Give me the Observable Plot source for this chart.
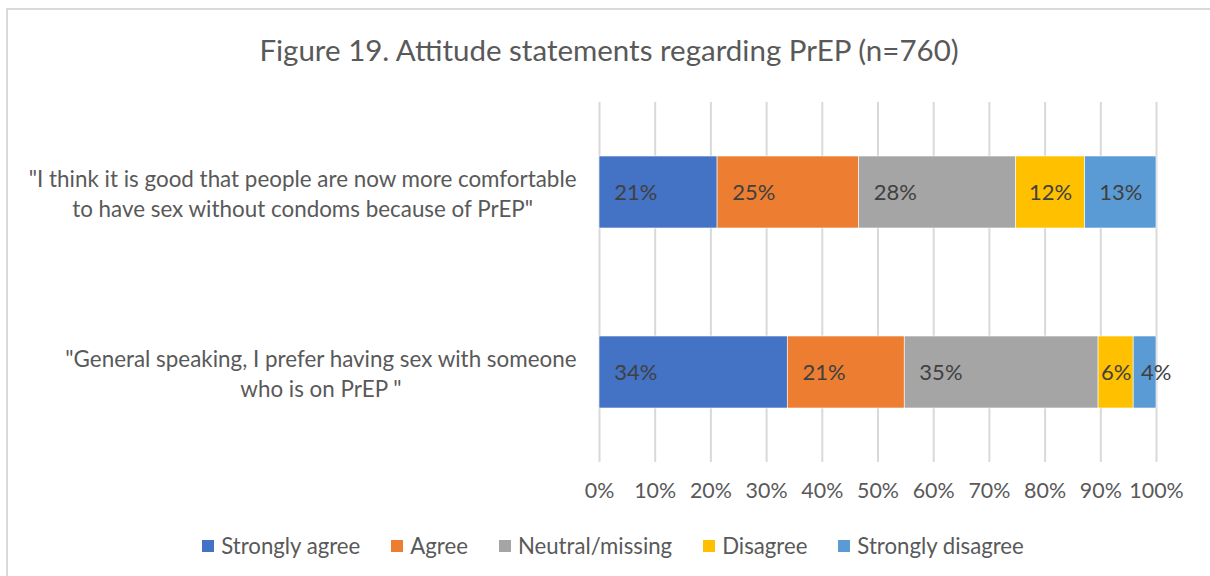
<!DOCTYPE html>
<html>
<head>
<meta charset="utf-8">
<script src="https://cdn.jsdelivr.net/npm/d3@7"></script>
<script src="https://cdn.jsdelivr.net/npm/@observablehq/plot@0.6"></script>
<style>
  body { margin: 0; background: #fff; font-family: Lato, "Open Sans", sans-serif; }
  #wrap { position: relative; width: 1210px; height: 576px; overflow: hidden; background: #fff; }
  #frame { position: absolute; left: 6px; top: 8px; width: 1400px; height: 800px;
           border-top: 2px solid #d9d9d9; border-left: 2px solid #d9d9d9; }
  #title { position: absolute; top: 32px; left: 0; width: 1218px; text-align: center;
           font-size: 29.5px; color: #595959; line-height: 36px; }
  #chart { position: absolute; left: 0; top: 100px; }
  #legend { position: absolute; top: 532px; left: 0; width: 1226px; display: flex;
            justify-content: center; font-size: 22.2px; color: #595959; line-height: 28px; }
  .item { display: flex; align-items: center; margin: 0 15.5px; }
  .sw { width: 12px; height: 12px; margin-right: 7px; }
</style>
</head>
<body>
<div id="wrap">
  <div id="frame"></div>
  <div id="title">Figure 19. Attitude statements regarding PrEP (n=760)</div>
  <div id="chart"></div>
  <div id="legend"></div>
</div>
<script>
// Survey statements (one bar each)
const statements = [
  '"I think it is good that people are now more comfortable\nto have sex without condoms because of PrEP"',
  '"General speaking, I prefer having sex with someone\nwho is on PrEP "'
];
// Response categories and their colours
const responses = ["Strongly agree", "Agree", "Neutral/missing", "Disagree", "Strongly disagree"];
const colors = ["#4472C4", "#ED7D31", "#A5A5A5", "#FFC000", "#5B9BD5"];
// Percentages per response, same order as responses
const comfortableValues = [21.2, 25.4, 28.2, 12.4, 12.8];
const preferValues = [33.8, 21.0, 34.8, 6.3, 4.1];
// Axis ticks
const xTicks = [0, 10, 20, 30, 40, 50, 60, 70, 80, 90, 100];

// Build stacked rows with label anchor positions
const labelHalf = 3.15, labelGap = 0.9, labelBox = 13;
const rows = [];
[comfortableValues, preferValues].forEach((vals, i) => {
  let x = 0, prevEnd = -Infinity;
  vals.forEach((v, j) => {
    let c = x + Math.min(v, labelBox) / 2;
    if (c - labelHalf < prevEnd + labelGap) c = prevEnd + labelGap + labelHalf;
    prevEnd = c + labelHalf;
    rows.push({statement: statements[i], response: responses[j], value: v, x1: x, x2: x + v, lx: c});
    x += v;
  });
});

const chart = Plot.plot({
  width: 1210,
  height: 412,
  marginLeft: 599,
  marginRight: 54,
  marginTop: 2,
  marginBottom: 50,
  style: {fontFamily: "Lato, 'Open Sans', sans-serif", fontSize: "21.4px", color: "#595959", background: "transparent"},
  x: {domain: [0, 100], ticks: xTicks, tickFormat: d => d + "%", tickSize: 0, tickPadding: 20, label: null},
  y: {domain: statements, paddingInner: 0.6, paddingOuter: 0.3, axis: null},
  color: {domain: responses, range: colors},
  marks: [
    Plot.ruleX(xTicks, {stroke: "#d9d9d9", strokeWidth: 2}),
    Plot.barX(rows, {x1: "x1", x2: "x2", y: "statement", fill: "response", stroke: "#fff", strokeWidth: 0.6}),
    Plot.text(statements, {y: d => d, frameAnchor: "left", dx: -23, textAnchor: "end", lineHeight: 1.34, fill: "#595959", fontSize: 22.4}),
    Plot.text(rows, {x: "lx", y: "statement", text: d => Math.round(d.value) + "%", fill: "#404040", fontSize: 22})
  ]
});
document.getElementById("chart").appendChild(chart);

// Centre each multi-line statement label within its own block
const labelGroup = chart.querySelectorAll('g[aria-label="text"]')[0];
labelGroup.querySelectorAll("text").forEach(t => {
  const spans = t.querySelectorAll("tspan");
  const lines = spans.length ? Array.from(spans) : [t];
  const w = d3.max(lines, s => s.getComputedTextLength());
  t.setAttribute("text-anchor", "middle");
  lines.forEach(s => s.setAttribute("x", -w / 2));
});

// Legend
const legend = d3.select("#legend");
responses.forEach((r, i) => {
  const item = legend.append("div").attr("class", "item");
  item.append("div").attr("class", "sw").style("background", colors[i]);
  item.append("span").text(r);
});
</script>
</body>
</html>
